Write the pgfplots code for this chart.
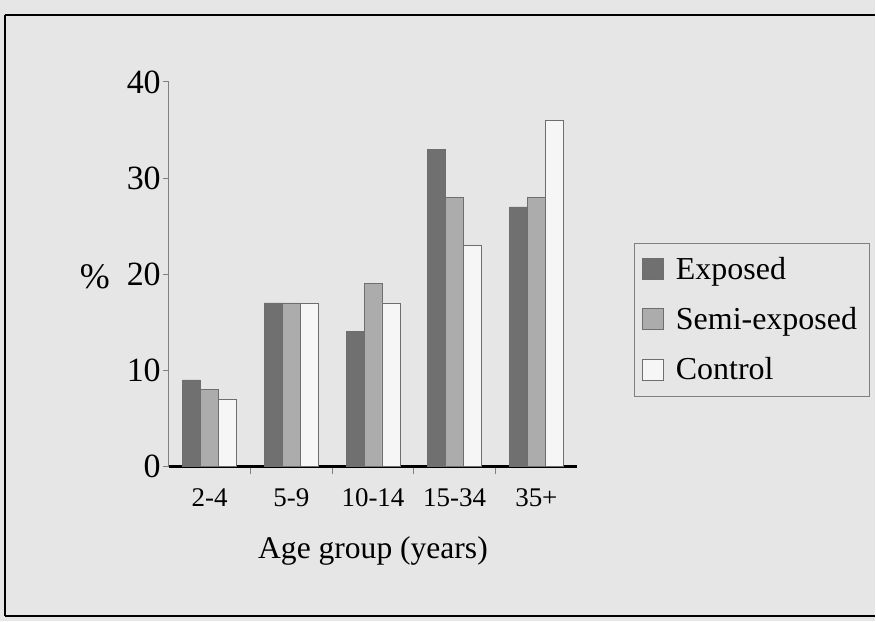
\documentclass[border=0pt]{standalone}
\usepackage{pgfplots}
\pgfplotsset{compat=1.18}
\usepackage{fontspec}
\setmainfont{Liberation Serif}
\definecolor{bgc}{RGB}{230,230,230}
\definecolor{expc}{RGB}{112,112,112}
\definecolor{semic}{RGB}{172,172,172}
\definecolor{ctrlc}{RGB}{246,246,246}
\definecolor{edgec}{RGB}{110,110,110}

\begin{document}
\begin{tikzpicture}
% scanned page background and frame
\fill[bgc] (0,0) rectangle (438pt,311pt);
\draw[line width=0.6pt] (2.5pt,2.5pt) -- (2.5pt,303.5pt);
\draw[line width=1pt] (2.5pt,303.5pt) -- (438pt,303.5pt);
\draw[line width=1.2pt] (2.5pt,2.5pt) -- (438pt,2.5pt);
\begin{axis}[
  at={(84.5pt,77.5pt)}, anchor=south west,
  scale only axis, width=204.5pt, height=192.5pt,
  xmin=-0.5, xmax=4.5, ymin=0, ymax=40,
  ybar=0pt, bar width=9pt,
  axis x line*=bottom, axis y line*=left,
  x axis line style={black, line width=1.5pt},
  y axis line style={gray, line width=0.4pt},
  xtick={0,1,2,3,4},
  xticklabels={2-4,5-9,10-14,15-34,35+},
  minor xtick={0.5,1.5,2.5,3.5},
  major x tick style={draw=none},
  minor x tick style={gray, line width=0.4pt},
  minor tick length=4pt,
  ytick={0,10,20,30,40},
  y tick style={gray, line width=0.4pt},
  major tick length=3pt,
  tick align=outside,
  /pgf/number format/assume math mode=true,
  xticklabel style={font=\fontsize{13.5}{15}\selectfont, yshift=-4.5pt},
  yticklabel style={font=\fontsize{17}{19}\selectfont, xshift=2.5pt},
  ylabel={\%},
  ylabel style={rotate=-90, at={(axis description cs:-0.181,0.494)}, anchor=center, font=\fontsize{18}{20}\selectfont},
  xlabel={Age group (years)},
  xlabel style={at={(axis description cs:0.5,-0.221)}, anchor=center, font=\fontsize{15.8}{17}\selectfont},
  legend style={at={(1.139,0.582)}, anchor=north west, draw=gray, fill=bgc,
    font=\fontsize{16}{17}\selectfont, inner xsep=4pt, inner ysep=5pt, row sep=8.5pt,
    /tikz/every odd column/.append style={column sep=4pt}},
  legend cell align=left,
  legend image code/.code={\draw[#1, draw=edgec, line width=0.3pt] (0pt,-5pt) rectangle (10.5pt,5.5pt);},
]
\addplot[fill=expc, draw=edgec, line width=0.3pt] coordinates {(0,9) (1,17) (2,14) (3,33) (4,27)};
\addplot[fill=semic, draw=edgec, line width=0.3pt] coordinates {(0,8) (1,17) (2,19) (3,28) (4,28)};
\addplot[fill=ctrlc, draw=edgec, line width=0.3pt] coordinates {(0,7) (1,17) (2,17) (3,23) (4,36)};
\legend{Exposed, Semi-exposed, Control}
\end{axis}
\end{tikzpicture}
\end{document}
